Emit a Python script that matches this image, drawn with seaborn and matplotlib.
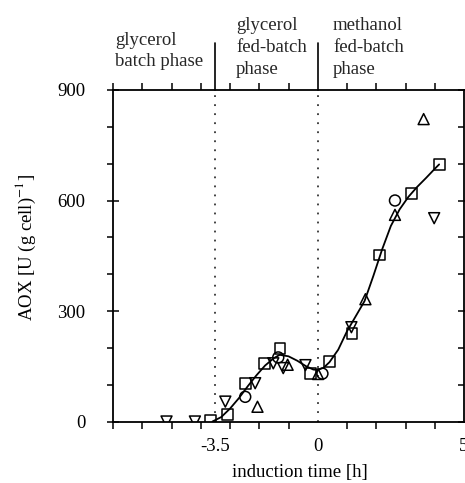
import matplotlib
matplotlib.use("Agg")
import matplotlib.pyplot as plt
import seaborn as sns
import numpy as np
import pandas as pd
from matplotlib.ticker import FixedLocator, MultipleLocator

# ---- data ----
sq_x = [-3.67, -3.1, -2.48, -1.83, -1.29, -0.24, 0.41, 1.17, 2.11, 3.19, 4.15]
sq_y = [2, 18, 104, 158, 199, 131, 164, 238, 452, 618, 698]
ci_x = [-2.48, -1.35, 0.16, 2.64]
ci_y = [67, 174, 130, 600]
up_x = [-2.06, -1.03, 0.01, 1.63, 2.64, 3.62]
up_y = [40, 154, 129, 332, 561, 821]
dn_x = [-5.17, -4.2, -3.16, -2.14, -1.52, -1.18, -0.42, 1.15, 3.98]
dn_y = [0, 0, 54, 104, 158, 145, 153, 256, 552]

fit_x = [-3.6, -3.3, -3.0, -2.7, -2.4, -2.1, -1.8, -1.5, -1.3, -1.0, -0.7, -0.4,
         -0.15, 0.0, 0.2, 0.4, 0.7, 1.0, 1.3, 1.6, 1.9, 2.2, 2.5, 2.8, 3.1, 3.4,
         3.7, 4.0, 4.15]
fit_y = [0, 12, 35, 63, 95, 125, 152, 172, 181, 177, 165, 150, 141, 140, 146,
         161, 195, 245, 286, 327, 395, 467, 531, 576, 610, 637, 661, 686, 698]

phase_bounds = [-3.5, 0]
phase_labels = ["glycerol\nbatch phase", "glycerol\nfed-batch\nphase",
                "methanol\nfed-batch\nphase"]
xtick_labels = ["-3.5", "0", "5"]
ytick_vals = [0, 300, 600, 900]

sns.set_theme(style="white")
plt.rcParams["font.family"] = ["Liberation Serif", "DejaVu Serif"]
plt.rcParams["mathtext.fontset"] = "stix"

fig = plt.figure(figsize=(4.65, 4.83), dpi=100)
ax = fig.add_axes([113 / 465, 1 - 421.5 / 483, 351 / 465, 331.5 / 483])

# phase dividers (dotted inside the plot, solid above it)
for b in phase_bounds:
    ax.axvline(b, color="#333333", lw=1.3, linestyle=(0, (1, 4)), zorder=1)
    ax.plot([b, b], [1.0, 1.142], color="black", lw=1.2,
            transform=ax.get_xaxis_transform(), clip_on=False)

sns.lineplot(x=fit_x, y=fit_y, ax=ax, color="black", lw=1.3, sort=False,
             zorder=2)

mk = dict(facecolors="none", edgecolor="black", linewidth=1.1, s=62, zorder=3)
sns.scatterplot(x=sq_x, y=sq_y, marker="s", ax=ax, **mk)
sns.scatterplot(x=ci_x, y=ci_y, marker="o", ax=ax, **mk)
sns.scatterplot(x=up_x, y=up_y, marker="^", ax=ax, **mk)
sns.scatterplot(x=dn_x, y=dn_y, marker="v", ax=ax, **mk)

ax.set_xlim(-7, 5)
ax.set_ylim(0, 900)

for s in ax.spines.values():
    s.set_visible(True)
    s.set_color("black")
    s.set_linewidth(1.3)

ax.xaxis.set_major_locator(FixedLocator([-3.5, 0, 5]))
ax.set_xticklabels(xtick_labels)
ax.xaxis.set_minor_locator(MultipleLocator(1))
ax.yaxis.set_major_locator(FixedLocator(ytick_vals))
ax.set_yticklabels([str(v) for v in ytick_vals])
ax.yaxis.set_minor_locator(MultipleLocator(100))

ax.tick_params(axis="x", which="major", length=0, pad=12, labelsize=13.5,
               colors="black", top=False, bottom=True)
ax.tick_params(axis="x", which="minor", length=5, width=1.1, direction="out",
               top=True, bottom=True, color="black")
ax.tick_params(axis="y", which="major", length=8, width=1.1, direction="inout",
               pad=16, labelsize=13.5, left=True, right=True, colors="black")
ax.tick_params(axis="y", which="minor", length=4, width=1.1, direction="in",
               left=True, right=True, color="black")
for t in ax.yaxis.get_minor_ticks():
    t.tick1line.set_marker(matplotlib.lines.TICKLEFT)

ax.set_xlabel("induction time [h]", fontsize=13.5, color="black")
ax.xaxis.set_label_coords(0.533, -0.128)
ax.set_ylabel(r"AOX [U (g cell)$^{-1}$]", fontsize=13.5, color="black")
ax.yaxis.set_label_coords(-0.215, 0.526)

fig.text(115 / 465, 1 - 51 / 483, phase_labels[0], fontsize=13.5,
         ha="left", va="center", linespacing=1.35)
fig.text(236 / 465, 1 - 47.5 / 483, phase_labels[1], fontsize=13.5,
         ha="left", va="center", linespacing=1.35)
fig.text(333 / 465, 1 - 47.5 / 483, phase_labels[2], fontsize=13.5,
         ha="left", va="center", linespacing=1.35)

fig.savefig("out.png", dpi=100)
